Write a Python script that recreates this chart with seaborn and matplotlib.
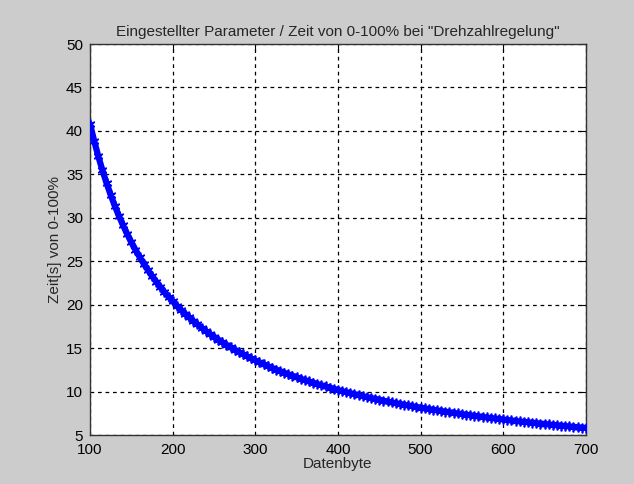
import numpy as np
import pandas as pd
import matplotlib
matplotlib.use("Agg")
import matplotlib.pyplot as plt
import seaborn as sns

# values (step of 5 on the x axis)
datenbyte = np.arange(100, 705, 5)
zeit = [40.8, 38.86, 37.09, 35.48, 34.0, 32.64, 31.38, 30.22, 29.14, 28.14,
        27.2, 26.32, 25.5, 24.73, 24.0, 23.31, 22.67, 22.05, 21.47, 20.92,
        20.4, 19.9, 19.43, 18.98, 18.55, 18.13, 17.74, 17.36, 17.0, 16.65,
        16.32, 16.0, 15.69, 15.4, 15.11, 14.84, 14.57, 14.32, 14.07, 13.83,
        13.6, 13.38, 13.16, 12.95, 12.75, 12.55, 12.36, 12.18, 12.0, 11.83,
        11.66, 11.49, 11.33, 11.18, 11.03, 10.88, 10.74, 10.6, 10.46, 10.33,
        10.2, 10.07, 9.95, 9.83, 9.71, 9.6, 9.49, 9.38, 9.27, 9.17,
        9.07, 8.97, 8.87, 8.77, 8.68, 8.59, 8.5, 8.41, 8.33, 8.24,
        8.16, 8.08, 8.0, 7.92, 7.85, 7.77, 7.7, 7.63, 7.56, 7.49,
        7.42, 7.35, 7.29, 7.22, 7.16, 7.1, 7.03, 6.97, 6.92, 6.86,
        6.8, 6.74, 6.69, 6.63, 6.58, 6.53, 6.48, 6.43, 6.38, 6.33,
        6.28, 6.23, 6.18, 6.14, 6.09, 6.04, 6.0, 5.96, 5.91, 5.87,
        5.83]
xticks = [100, 200, 300, 400, 500, 600, 700]
yticks = [5, 10, 15, 20, 25, 30, 35, 40, 45, 50]

df = pd.DataFrame({"Datenbyte": datenbyte, "Zeit": zeit})

sns.set_style("white")
plt.rcParams["font.family"] = ["Liberation Sans", "DejaVu Sans"]

fig = plt.figure(figsize=(6.34, 4.84), dpi=100, facecolor="#cccccc")
ax = fig.add_axes([0.142, 0.101, 0.782, 0.808])
ax.set_facecolor("white")

# MATLAB-like asterisk markers on a thick line -> continuous blue band
sns.lineplot(data=df, x="Datenbyte", y="Zeit", ax=ax, color="blue",
             marker=(6, 2, 0), markersize=7, markeredgecolor="blue",
             markeredgewidth=1.2, linewidth=4.5, zorder=3)

ax.set_xlim(100, 700)
ax.set_ylim(5, 50)
ax.set_xticks(xticks)
ax.set_yticks(yticks)
ax.grid(True, color="black", linestyle=(0, (3, 3)), linewidth=0.9)
ax.tick_params(direction="in", top=True, right=True, length=4,
               labelsize=11, colors="black", width=0.8)
ax.tick_params(axis="x", pad=6)
ax.tick_params(axis="y", pad=5)
for s in ax.spines.values():
    s.set_color("#333333")
    s.set_linewidth(1)

ax.set_title('Eingestellter Parameter / Zeit von 0-100% bei "Drehzahlregelung"',
             fontsize=11, pad=6)
ax.set_xlabel("Datenbyte", fontsize=11, labelpad=0)
ax.set_ylabel("Zeit[s] von 0-100%", fontsize=11, labelpad=3)

fig.savefig("out.png", dpi=100, facecolor=fig.get_facecolor())
